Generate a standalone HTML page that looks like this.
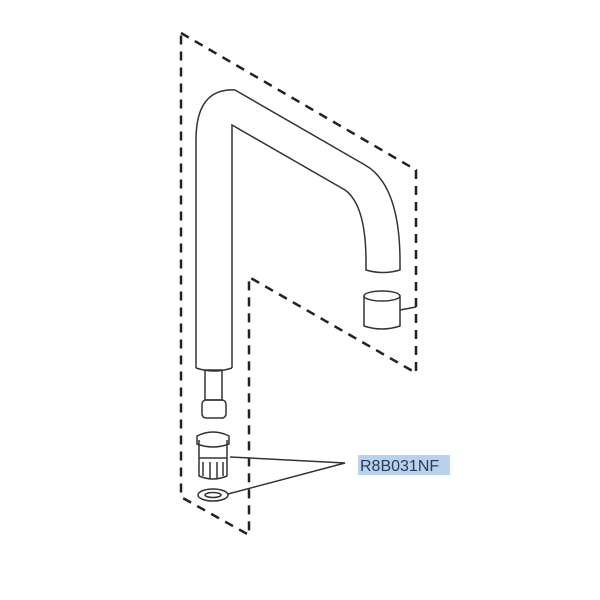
<!DOCTYPE html>
<html><head><style>body{margin:0;background:#fff}svg{display:block}</style></head><body>
<svg width="600" height="600" viewBox="0 0 600 600" xmlns="http://www.w3.org/2000/svg">
<rect width="600" height="600" fill="#fff"/>
<g fill="none" stroke="#222" stroke-width="2.5" stroke-dasharray="9,7">
<polyline points="181,33 416,170 416,373 249,277 249,535 181,497 181,33"/>
</g>
<g fill="none" stroke="#333" stroke-width="1.5">
<path d="M196,368 L196,140 Q196,88 235,90 L365,165 Q400,185 400,262"/>
<path d="M232,368 L232,125 L345,190 Q366,205 366,262"/>
<path d="M196,368 Q214,374 232,368"/>
<path d="M366,262 L366,270 Q383,275 400,270 L400,262"/>
<ellipse cx="382" cy="296" rx="18" ry="5"/>
<path d="M364,296 L364,326 Q382,332 400,326 L400,296"/>
<path d="M400,310 L416,307"/>
<rect x="205" y="370" width="17" height="30"/>
<rect x="202" y="400" width="24" height="18" rx="4"/>
<path d="M199,440 L199,476 Q213,482 227,476 L227,440"/>
<path d="M197,436 Q213,428 229,436 L229,444 Q213,450 197,444 Z"/>
<path d="M199,458 L227,458 M203,462 L203,476 M210,462 L210,478 M217,462 L217,478 M223,462 L223,476"/>
<ellipse cx="213" cy="495" rx="15" ry="6"/>
<ellipse cx="213" cy="495" rx="8" ry="2.5"/>
<path d="M230,457 L345,463 L228,494"/>
</g>
<rect x="358" y="455" width="92" height="20" fill="#b8d2ec"/>
<text x="360" y="471" font-family="Liberation Sans, sans-serif" font-size="16" fill="#2a3a5a">R8B031NF</text>
</svg>
</body></html>
